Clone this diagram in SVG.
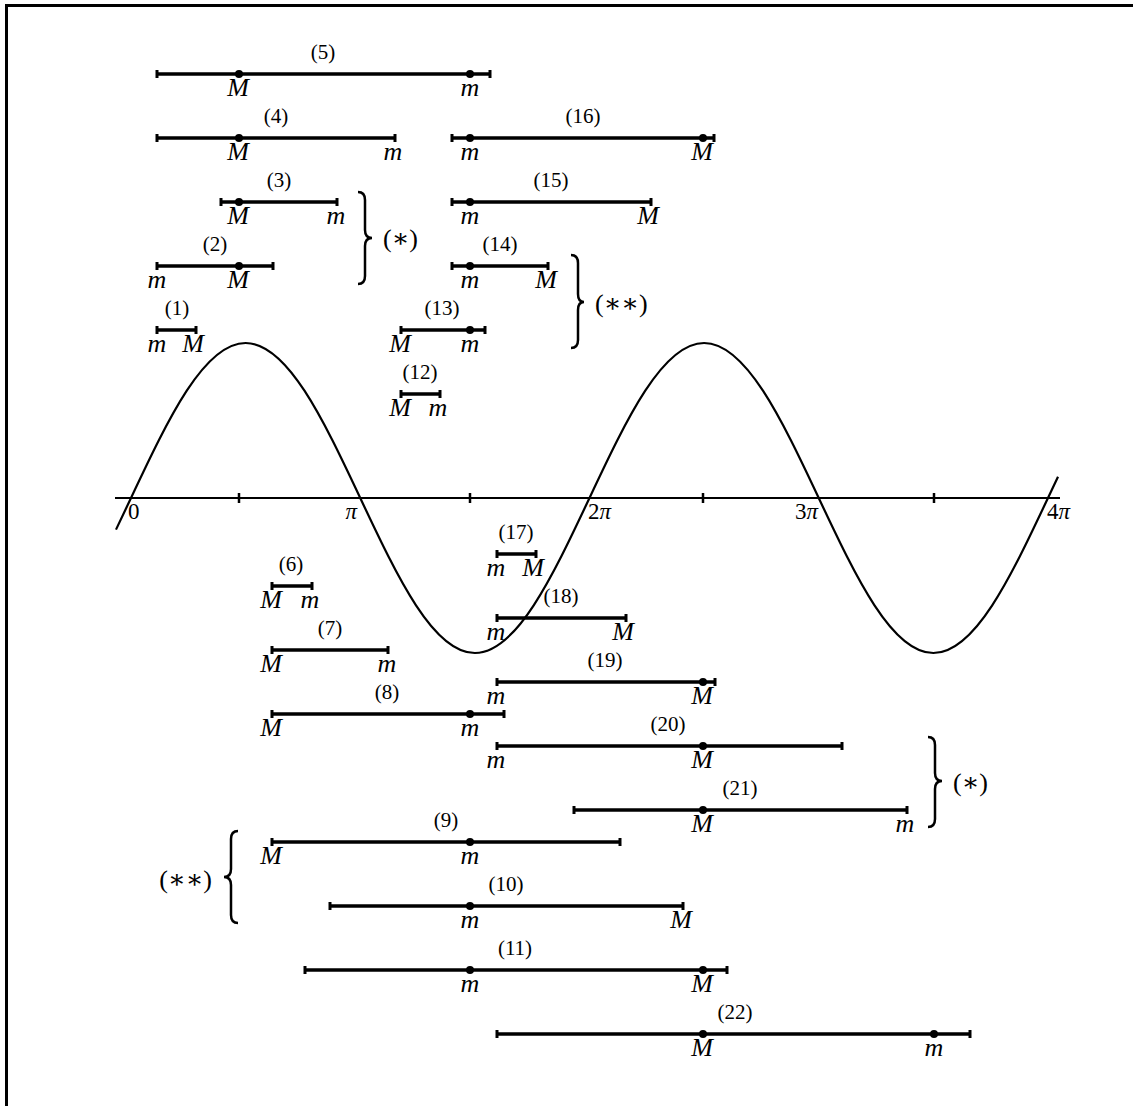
<svg xmlns="http://www.w3.org/2000/svg" width="1136" height="1106" viewBox="0 0 1136 1106">
<style>
.seg{stroke:#000;stroke-width:3.3;fill:none}
.end{stroke:#000;stroke-width:3}
.dot{fill:#000}
.lab{font-family:"Liberation Serif","DejaVu Serif",serif;font-size:21px;text-anchor:middle;fill:#000}
.var{font-family:"Liberation Serif","DejaVu Serif",serif;font-size:26px;font-style:italic;text-anchor:middle;fill:#000}
.ax{font-family:"Liberation Serif","DejaVu Serif",serif;font-size:23px;fill:#000}
.star{font-family:"Liberation Serif","DejaVu Serif",serif;font-size:26px;fill:#000}
.brace{stroke:#000;stroke-width:2.5;fill:none}
</style>
<rect width="1136" height="1106" fill="#fff"/>
<path d="M6.5,1106 V5.5 H1133" fill="none" stroke="#000" stroke-width="3"/>

<g id="axes">
<line x1="115" y1="498" x2="1060" y2="498" stroke="#000" stroke-width="2"/>
<g stroke="#000" stroke-width="2.5">
<line x1="239" y1="493" x2="239" y2="503"/>
<line x1="470" y1="493" x2="470" y2="503"/>
<line x1="703" y1="493" x2="703" y2="503"/>
<line x1="934" y1="493" x2="934" y2="503"/>
</g>
<path transform="translate(131,498) scale(72.97,-155)" vector-effect="non-scaling-stroke" stroke="#000" stroke-width="2.2" fill="none" d="M-0.2056,-0.2042 L0,0 C0.5123,0.5123 1.0023,1 1.5708,1 C2.1393,1 2.6293,0.5123 3.1416,0 C3.6539,-0.5123 4.1439,-1 4.7124,-1 C5.2809,-1 5.7709,-0.5123 6.2832,0 C6.7955,0.5123 7.2855,1 7.854,1 C8.4225,1 8.9125,0.5123 9.4248,0 C9.9371,-0.5123 10.4271,-1 10.9956,-1 C11.5641,-1 12.0541,-0.5123 12.5664,0 L12.704,0.1375"/>
<text class="ax" x="128" y="519">0</text>
<text class="ax" x="357" y="519" text-anchor="end" font-style="italic">π</text>
<text class="ax" x="588" y="519">2<tspan font-style="italic">π</tspan></text>
<text class="ax" x="818" y="519" text-anchor="end">3<tspan font-style="italic">π</tspan></text>
<text class="ax" x="1047" y="519">4<tspan font-style="italic">π</tspan></text>
</g>

<g id="s5"><line class="seg" x1="157" y1="74" x2="490" y2="74"/><line class="end" x1="157" y1="70" x2="157" y2="78"/><line class="end" x1="490" y1="70" x2="490" y2="78"/><circle class="dot" cx="239" cy="74" r="4"/><circle class="dot" cx="470" cy="74" r="4"/><text class="lab" x="323" y="59">(5)</text><text class="var" x="238" y="96">M</text><text class="var" x="470" y="96">m</text></g>
<g id="s4"><line class="seg" x1="157" y1="138" x2="395" y2="138"/><line class="end" x1="157" y1="134" x2="157" y2="142"/><line class="end" x1="395" y1="134" x2="395" y2="142"/><circle class="dot" cx="239" cy="138" r="4"/><text class="lab" x="276" y="123">(4)</text><text class="var" x="238" y="160">M</text><text class="var" x="393" y="160">m</text></g>
<g id="s16"><line class="seg" x1="452" y1="138" x2="714" y2="138"/><line class="end" x1="452" y1="134" x2="452" y2="142"/><line class="end" x1="714" y1="134" x2="714" y2="142"/><circle class="dot" cx="470" cy="138" r="4"/><circle class="dot" cx="703" cy="138" r="4"/><text class="lab" x="583" y="123">(16)</text><text class="var" x="470" y="160">m</text><text class="var" x="702" y="160">M</text></g>
<g id="s3"><line class="seg" x1="221" y1="202" x2="337" y2="202"/><line class="end" x1="221" y1="198" x2="221" y2="206"/><line class="end" x1="337" y1="198" x2="337" y2="206"/><circle class="dot" cx="239" cy="202" r="4"/><text class="lab" x="279" y="187">(3)</text><text class="var" x="238" y="224">M</text><text class="var" x="336" y="224">m</text></g>
<g id="s15"><line class="seg" x1="452" y1="202" x2="651" y2="202"/><line class="end" x1="452" y1="198" x2="452" y2="206"/><line class="end" x1="651" y1="198" x2="651" y2="206"/><circle class="dot" cx="470" cy="202" r="4"/><text class="lab" x="551" y="187">(15)</text><text class="var" x="470" y="224">m</text><text class="var" x="648" y="224">M</text></g>
<g id="s2"><line class="seg" x1="157" y1="266" x2="273" y2="266"/><line class="end" x1="157" y1="262" x2="157" y2="270"/><line class="end" x1="273" y1="262" x2="273" y2="270"/><circle class="dot" cx="239" cy="266" r="4"/><text class="lab" x="215" y="251">(2)</text><text class="var" x="157" y="288">m</text><text class="var" x="238" y="288">M</text></g>
<g id="s14"><line class="seg" x1="452" y1="266" x2="548" y2="266"/><line class="end" x1="452" y1="262" x2="452" y2="270"/><line class="end" x1="548" y1="262" x2="548" y2="270"/><circle class="dot" cx="470" cy="266" r="4"/><text class="lab" x="500" y="251">(14)</text><text class="var" x="470" y="288">m</text><text class="var" x="546" y="288">M</text></g>
<g id="s1"><line class="seg" x1="157" y1="330" x2="196" y2="330"/><line class="end" x1="157" y1="326" x2="157" y2="334"/><line class="end" x1="196" y1="326" x2="196" y2="334"/><text class="lab" x="177" y="315">(1)</text><text class="var" x="157" y="352">m</text><text class="var" x="193" y="352">M</text></g>
<g id="s13"><line class="seg" x1="401" y1="330" x2="485" y2="330"/><line class="end" x1="401" y1="326" x2="401" y2="334"/><line class="end" x1="485" y1="326" x2="485" y2="334"/><circle class="dot" cx="470" cy="330" r="4"/><text class="lab" x="442" y="315">(13)</text><text class="var" x="400" y="352">M</text><text class="var" x="470" y="352">m</text></g>
<g id="s12"><line class="seg" x1="401" y1="394" x2="440" y2="394"/><line class="end" x1="401" y1="390" x2="401" y2="398"/><line class="end" x1="440" y1="390" x2="440" y2="398"/><text class="lab" x="420" y="379">(12)</text><text class="var" x="400" y="416">M</text><text class="var" x="438" y="416">m</text></g>

<g id="s17"><line class="seg" x1="497" y1="554" x2="536" y2="554"/><line class="end" x1="497" y1="550" x2="497" y2="558"/><line class="end" x1="536" y1="550" x2="536" y2="558"/><text class="lab" x="516" y="539">(17)</text><text class="var" x="496" y="576">m</text><text class="var" x="533" y="576">M</text></g>
<g id="s6"><line class="seg" x1="272" y1="586" x2="312" y2="586"/><line class="end" x1="272" y1="582" x2="272" y2="590"/><line class="end" x1="312" y1="582" x2="312" y2="590"/><text class="lab" x="291" y="571">(6)</text><text class="var" x="271" y="608">M</text><text class="var" x="310" y="608">m</text></g>
<g id="s18"><line class="seg" x1="497" y1="618" x2="626" y2="618"/><line class="end" x1="497" y1="614" x2="497" y2="622"/><line class="end" x1="626" y1="614" x2="626" y2="622"/><text class="lab" x="561" y="603">(18)</text><text class="var" x="496" y="640">m</text><text class="var" x="623" y="640">M</text></g>
<g id="s7"><line class="seg" x1="272" y1="650" x2="388" y2="650"/><line class="end" x1="272" y1="646" x2="272" y2="654"/><line class="end" x1="388" y1="646" x2="388" y2="654"/><text class="lab" x="330" y="635">(7)</text><text class="var" x="271" y="672">M</text><text class="var" x="387" y="672">m</text></g>
<g id="s19"><line class="seg" x1="497" y1="682" x2="715" y2="682"/><line class="end" x1="497" y1="678" x2="497" y2="686"/><line class="end" x1="715" y1="678" x2="715" y2="686"/><circle class="dot" cx="703" cy="682" r="4"/><text class="lab" x="605" y="667">(19)</text><text class="var" x="496" y="704">m</text><text class="var" x="702" y="704">M</text></g>
<g id="s8"><line class="seg" x1="272" y1="714" x2="504" y2="714"/><line class="end" x1="272" y1="710" x2="272" y2="718"/><line class="end" x1="504" y1="710" x2="504" y2="718"/><circle class="dot" cx="470" cy="714" r="4"/><text class="lab" x="387" y="699">(8)</text><text class="var" x="271" y="736">M</text><text class="var" x="470" y="736">m</text></g>
<g id="s20"><line class="seg" x1="497" y1="746" x2="842" y2="746"/><line class="end" x1="497" y1="742" x2="497" y2="750"/><line class="end" x1="842" y1="742" x2="842" y2="750"/><circle class="dot" cx="703" cy="746" r="4"/><text class="lab" x="668" y="731">(20)</text><text class="var" x="496" y="768">m</text><text class="var" x="702" y="768">M</text></g>
<g id="s21"><line class="seg" x1="574" y1="810" x2="907" y2="810"/><line class="end" x1="574" y1="806" x2="574" y2="814"/><line class="end" x1="907" y1="806" x2="907" y2="814"/><circle class="dot" cx="703" cy="810" r="4"/><text class="lab" x="740" y="795">(21)</text><text class="var" x="702" y="832">M</text><text class="var" x="905" y="832">m</text></g>
<g id="s9"><line class="seg" x1="272" y1="842" x2="620" y2="842"/><line class="end" x1="272" y1="838" x2="272" y2="846"/><line class="end" x1="620" y1="838" x2="620" y2="846"/><circle class="dot" cx="470" cy="842" r="4"/><text class="lab" x="446" y="827">(9)</text><text class="var" x="271" y="864">M</text><text class="var" x="470" y="864">m</text></g>
<g id="s10"><line class="seg" x1="330" y1="906" x2="683" y2="906"/><line class="end" x1="330" y1="902" x2="330" y2="910"/><line class="end" x1="683" y1="902" x2="683" y2="910"/><circle class="dot" cx="470" cy="906" r="4"/><text class="lab" x="506" y="891">(10)</text><text class="var" x="470" y="928">m</text><text class="var" x="681" y="928">M</text></g>
<g id="s11"><line class="seg" x1="305" y1="970" x2="727" y2="970"/><line class="end" x1="305" y1="966" x2="305" y2="974"/><line class="end" x1="727" y1="966" x2="727" y2="974"/><circle class="dot" cx="470" cy="970" r="4"/><circle class="dot" cx="703" cy="970" r="4"/><text class="lab" x="515" y="955">(11)</text><text class="var" x="470" y="992">m</text><text class="var" x="702" y="992">M</text></g>
<g id="s22"><line class="seg" x1="497" y1="1034" x2="970" y2="1034"/><line class="end" x1="497" y1="1030" x2="497" y2="1038"/><line class="end" x1="970" y1="1030" x2="970" y2="1038"/><circle class="dot" cx="703" cy="1034" r="4"/><circle class="dot" cx="934" cy="1034" r="4"/><text class="lab" x="735" y="1019">(22)</text><text class="var" x="702" y="1056">M</text><text class="var" x="934" y="1056">m</text></g>

<g id="brace1"><path class="brace" d="M358,192 Q365,192 365,200 L365,230 Q365,238 372,238 Q365,238 365,246 L365,276 Q365,284 358,284"/><text class="star" x="383" y="247">(∗)</text></g>
<g id="brace2"><path class="brace" d="M571,255 Q578,255 578,263 L578,294 Q578,302 584,302 Q578,302 578,310 L578,340 Q578,348 571,348"/><text class="star" x="595" y="312">(∗∗)</text></g>
<g id="brace3"><path class="brace" d="M928,737 Q935,737 935,745 L935,773 Q935,781 942,781 Q935,781 935,789 L935,819 Q935,827 928,827"/><text class="star" x="953" y="791">(∗)</text></g>
<g id="brace4"><path class="brace" d="M238,831 Q231,831 231,839 L231,869 Q231,877 224,877 Q231,877 231,885 L231,915 Q231,923 238,923"/><text class="star" x="212" y="888" text-anchor="end">(∗∗)</text></g>
</svg>
